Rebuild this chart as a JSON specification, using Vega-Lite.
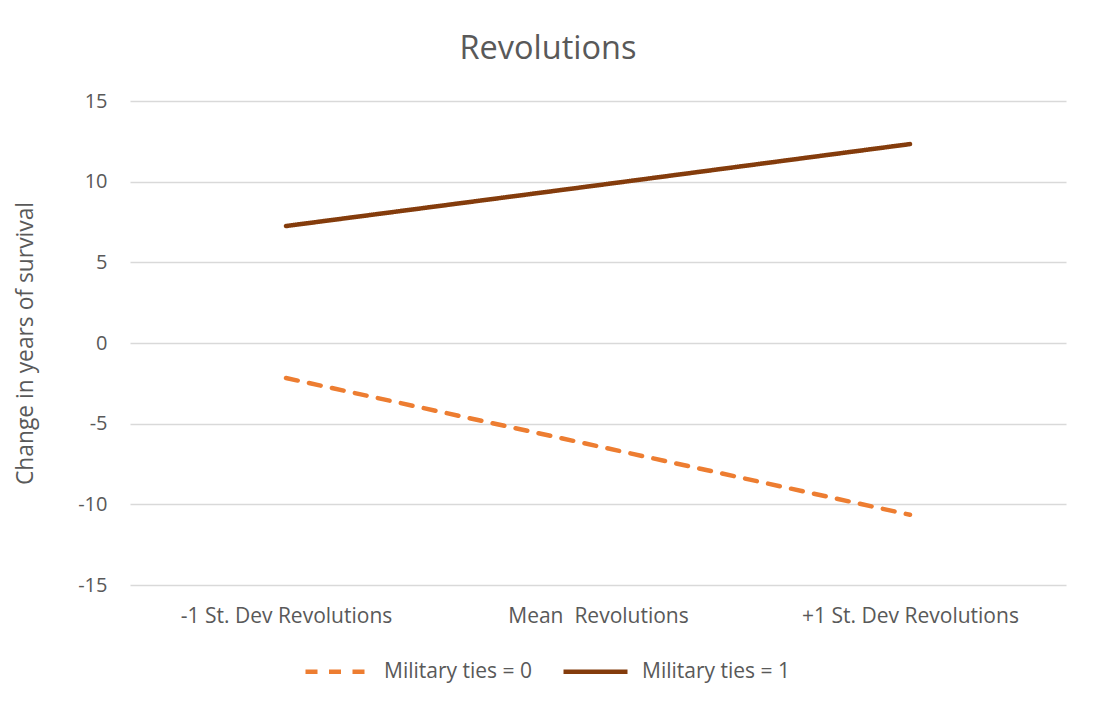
{
  "$schema": "https://vega.github.io/schema/vega-lite/v6.json",
  "autosize": "none",
  "width": 936,
  "height": 484,
  "padding": {"left": 130, "top": 101, "right": 29, "bottom": 123},
  "background": "white",
  "title": {
    "text": "Revolutions",
    "font": "Open Sans",
    "fontSize": 32.5,
    "fontWeight": "normal",
    "color": "#595959",
    "anchor": "middle",
    "dx": -50,
    "offset": 26
  },
  "data": {
    "values": [
      {"level": "-1 St. Dev Revolutions", "series": "Military ties = 0", "value": -2.17},
      {"level": "Mean  Revolutions", "series": "Military ties = 0", "value": -6.4},
      {"level": "+1 St. Dev Revolutions", "series": "Military ties = 0", "value": -10.65},
      {"level": "-1 St. Dev Revolutions", "series": "Military ties = 1", "value": 7.25},
      {"level": "Mean  Revolutions", "series": "Military ties = 1", "value": 9.78},
      {"level": "+1 St. Dev Revolutions", "series": "Military ties = 1", "value": 12.33}
    ]
  },
  "mark": {"type": "line", "strokeWidth": 4.5, "strokeCap": "round"},
  "encoding": {
    "x": {
      "field": "level",
      "type": "nominal",
      "sort": ["-1 St. Dev Revolutions", "Mean  Revolutions", "+1 St. Dev Revolutions"],
      "scale": {"type": "point", "padding": 0.5},
      "axis": {
        "title": null,
        "domain": false,
        "ticks": false,
        "grid": false,
        "labelAngle": 0,
        "labelLimit": 0,
        "labelExpr": "replace(datum.label, '  ', '\u00a0 ')",
        "labelFont": "Open Sans",
        "labelFontSize": 21,
        "labelColor": "#595959",
        "labelPadding": 20
      }
    },
    "y": {
      "field": "value",
      "type": "quantitative",
      "scale": {"domain": [-15, 15], "nice": false, "zero": false},
      "axis": {
        "values": [-15, -10, -5, 0, 5, 10, 15],
        "labelExpr": "toString(datum.value)",
        "title": "Change in years of survival",
        "titleFont": "Open Sans",
        "titleFontSize": 22.8,
        "titleFontWeight": "normal",
        "titleColor": "#595959",
        "titlePadding": 40,
        "domain": false,
        "ticks": false,
        "grid": true,
        "gridColor": "#D9D9D9",
        "gridWidth": 1.5,
        "labelFont": "Open Sans",
        "labelFontSize": 20,
        "labelColor": "#595959",
        "labelPadding": 23
      }
    },
    "color": {
      "field": "series",
      "type": "nominal",
      "scale": {"domain": ["Military ties = 0", "Military ties = 1"], "range": ["#ED7D31", "#843C0C"]},
      "legend": {
        "title": null,
        "orient": "none",
        "direction": "horizontal",
        "legendX": 173,
        "legendY": 536,
        "symbolType": "stroke",
        "symbolSize": 4096,
        "symbolStrokeWidth": 4.5,
        "labelFont": "Open Sans",
        "labelFontSize": 21,
        "labelLimit": 0,
        "labelColor": "#595959",
        "labelOffset": 12,
        "columnPadding": 21
      }
    },
    "strokeDash": {
      "field": "series",
      "type": "nominal",
      "scale": {"domain": ["Military ties = 0", "Military ties = 1"], "range": [[12, 11.5], [1, 0]]},
      "legend": null
    }
  },
  "config": {"view": {"stroke": null}}
}
